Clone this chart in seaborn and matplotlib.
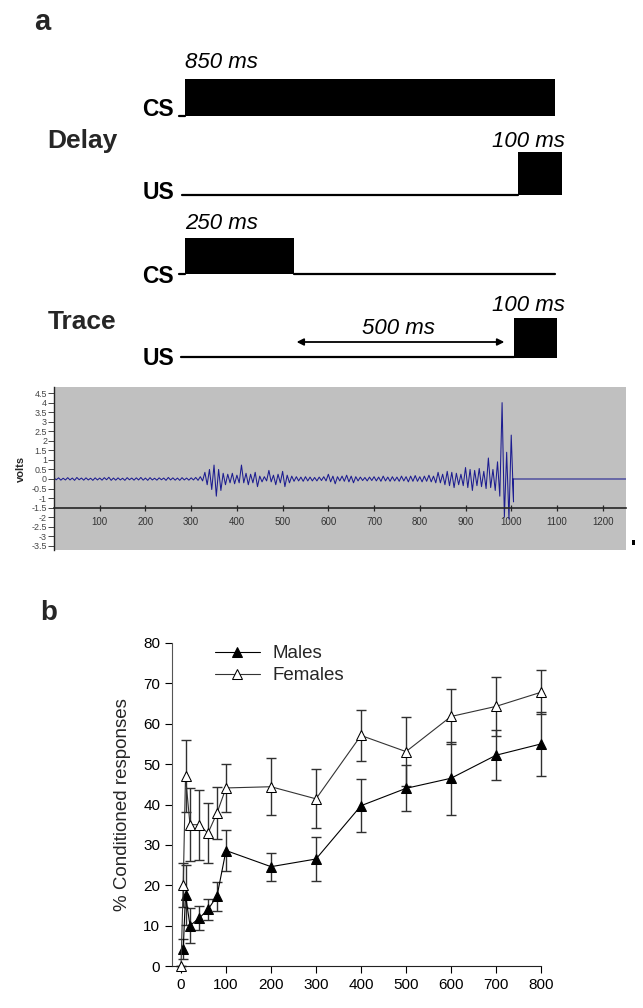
import numpy as np
import pandas as pd
import matplotlib
matplotlib.use("Agg")
import matplotlib.pyplot as plt
from matplotlib.patches import Rectangle, FancyArrowPatch
import seaborn as sns

# ---------------- panel a : stimulus timings (ms) ----------------
delay_cs_dur = 850
delay_us_onset = 765
us_dur = 100
trace_cs_dur = 250
trace_us_onset = 755
trace_gap = [250, 740]
delay_texts = ["850 ms", "100 ms"]
trace_texts = ["250 ms", "100 ms", "500 ms"]
row_names = ["Delay", "Trace"]

# ---------------- EMG trace (volts, 10 ms bins: upper / lower excursions) ----------------
emg_t = list(range(0, 1010, 10))
emg_hi = [0.05, 0.06, 0.04, 0.07, 0.05, 0.08, 0.05, 0.06, 0.04, 0.06,
          0.05, 0.07, 0.09, 0.05, 0.06, 0.04, 0.07, 0.05, 0.06, 0.08,
          0.05, 0.07, 0.04, 0.06, 0.05, 0.08, 0.06, 0.05, 0.07, 0.05,
          0.06, 0.08, 0.12, 0.35, 0.50, 0.73, 0.50, 0.30, 0.25, 0.30,
          0.20, 0.73, 0.30, 0.25, 0.35, 0.15, 0.12, 0.45, 0.20, 0.25,
          0.40, 0.20, 0.15, 0.12, 0.10, 0.12, 0.10, 0.08, 0.10, 0.12,
          0.25, 0.15, 0.12, 0.15, 0.20, 0.15, 0.12, 0.10, 0.08, 0.10,
          0.12, 0.10, 0.15, 0.10, 0.12, 0.10, 0.15, 0.12, 0.15, 0.18,
          0.12, 0.15, 0.20, 0.15, 0.35, 0.25, 0.40, 0.35, 0.30, 0.25,
          0.60, 0.50, 0.45, 0.55, 0.40, 1.10, 0.50, 0.90, 4.00, 1.40,
          2.30]
emg_lo = [-0.04, -0.06, -0.05, -0.05, -0.07, -0.04, -0.06, -0.05, -0.07, -0.05,
          -0.06, -0.04, -0.07, -0.06, -0.05, -0.07, -0.04, -0.06, -0.05, -0.06,
          -0.07, -0.05, -0.06, -0.04, -0.07, -0.05, -0.06, -0.07, -0.05, -0.06,
          -0.05, -0.07, -0.10, -0.30, -0.55, -0.90, -0.60, -0.30, -0.20, -0.25,
          -0.20, -0.20, -0.30, -0.20, -0.40, -0.15, -0.10, -0.15, -0.30, -0.20,
          -0.40, -0.20, -0.12, -0.10, -0.12, -0.10, -0.10, -0.10, -0.08, -0.10,
          -0.15, -0.25, -0.10, -0.12, -0.15, -0.20, -0.10, -0.08, -0.10, -0.08,
          -0.10, -0.12, -0.10, -0.12, -0.10, -0.12, -0.10, -0.15, -0.12, -0.12,
          -0.15, -0.12, -0.15, -0.20, -0.20, -0.30, -0.35, -0.45, -0.30, -0.35,
          -0.45, -0.60, -0.35, -0.40, -0.50, -0.45, -0.60, -0.90, -2.00, -2.10,
          -1.20]
emg_tail_t = [1004, 1251]
emg_tail_v = [0.0, 0.0]
emg_xticks = [100, 200, 300, 400, 500, 600, 700, 800, 900, 1000, 1100, 1200]
emg_yticks = [4.5, 4, 3.5, 3, 2.5, 2, 1.5, 1, 0.5, 0, -0.5, -1, -1.5, -2, -2.5, -3, -3.5]
emg_ylabels = ["4.5", "4", "3.5", "3", "2.5", "2", "1.5", "1", "0.5", "0",
               "-0.5", "-1", "-1.5", "-2", "-2.5", "-3", "-3.5"]

# ---------------- panel b : % conditioned responses ----------------
delays = [0, 5, 10, 20, 40, 60, 80, 100, 200, 300, 400, 500, 600, 700, 800]
males = [np.nan, 4.2, 17.6, 10.0, 11.8, 14.0, 17.3, 28.6, 24.6, 26.5, 39.7, 44.0, 46.5, 52.2, 55.0]
males_err = [np.nan, 2.5, 7.5, 4.3, 3.0, 2.6, 3.6, 5.0, 3.5, 5.5, 6.5, 5.7, 9.0, 6.2, 8.0]
females = [0.0, 20.1, 47.0, 35.0, 35.0, 32.9, 37.9, 44.1, 44.4, 41.4, 57.1, 53.1, 61.8, 64.3, 67.8]
females_err = [0.0, 5.5, 8.9, 9.0, 8.7, 7.5, 6.5, 6.0, 7.0, 7.3, 6.3, 8.5, 6.7, 7.4, 5.5]
b_xticks = [0, 100, 200, 300, 400, 500, 600, 700, 800]
b_yticks = [0, 10, 20, 30, 40, 50, 60, 70, 80]

sns.set_style("ticks")
plt.rcParams["font.family"] = ["Liberation Sans", "DejaVu Sans"]

W, H = 643, 1008
fig = plt.figure(figsize=(W / 100, H / 100), dpi=100)
fig.patch.set_facecolor("white")

# ======== schematic axes (x in ms, y in pixel rows) ========
k = 370 / 850.0            # px per ms
ax0 = fig.add_axes([0, 1 - 385 / H, 1, 385 / H])
ax0.set_xlim(-185 / k, (W - 185) / k)
ax0.set_ylim(385, 0)
ax0.axis("off")

def px(xp):
    return (xp - 185) / k

# Delay CS
ax0.add_patch(Rectangle((0, 79), delay_cs_dur, 37, color="black", lw=0))
ax0.plot([px(179), 0], [116, 116], color="black", lw=1.6)
# Delay US
ax0.plot([px(182), delay_us_onset], [195, 195], color="black", lw=1.6)
ax0.add_patch(Rectangle((delay_us_onset, 152), us_dur, 43, color="black", lw=0))
# Trace CS
ax0.add_patch(Rectangle((0, 238), trace_cs_dur, 36, color="black", lw=0))
ax0.plot([px(179), 0], [274, 274], color="black", lw=1.6)
ax0.plot([trace_cs_dur, delay_cs_dur], [274, 274], color="black", lw=1.6)
# Trace US
ax0.plot([px(181), trace_us_onset], [357, 357], color="black", lw=1.6)
ax0.add_patch(Rectangle((trace_us_onset, 318), us_dur, 40, color="black", lw=0))
ax0.add_patch(FancyArrowPatch((trace_gap[0], 342), (trace_gap[1], 342),
                              arrowstyle="<|-|>", mutation_scale=10, color="black", lw=1.3))

it = dict(style="italic", fontsize=16, color="black")
ax0.text(0, 68, delay_texts[0], ha="left", va="baseline", **it)
ax0.text(px(565), 147, delay_texts[1], ha="right", va="baseline", **it)
ax0.text(0, 229, trace_texts[0], ha="left", va="baseline", **it)
ax0.text(px(565), 311, trace_texts[1], ha="right", va="baseline", **it)
ax0.text(px(398), 334, trace_texts[2], ha="center", va="baseline", **it)

bd = dict(fontweight="bold", fontsize=16.5, color="black")
ax0.text(px(174), 116, "CS", ha="right", va="baseline", **bd)
ax0.text(px(174), 199, "US", ha="right", va="baseline", **bd)
ax0.text(px(174), 283, "CS", ha="right", va="baseline", **bd)
ax0.text(px(174), 365, "US", ha="right", va="baseline", **bd)
ax0.text(px(47), 148, row_names[0], ha="left", va="baseline", fontweight="bold", fontsize=19)
ax0.text(px(48), 329, row_names[1], ha="left", va="baseline", fontweight="bold", fontsize=19)
ax0.text(px(34), 30, "a", ha="left", va="baseline", fontweight="bold", fontsize=21)

# ======== EMG axes ========
ax1 = fig.add_axes([54 / W, 1 - 550 / H, 572 / W, 163 / H])
ax1.set_facecolor("#c0c0c0")
tt, vv = [], []
for t, hi, lo in zip(emg_t, emg_hi, emg_lo):
    tt += [t, t + 5]
    vv += [hi, lo]
tt += emg_tail_t
vv += emg_tail_v
sns.lineplot(x=tt, y=vv, ax=ax1, color="#1c1c90", lw=0.75, estimator=None, sort=False)
ax1.set_xlim(0, 1251)
ax1.set_ylim(-3.72, 4.82)
for s in ["top", "right"]:
    ax1.spines[s].set_visible(False)
ax1.spines["bottom"].set_position(("data", -1.5))
ax1.spines["bottom"].set_linewidth(1.2)
ax1.spines["left"].set_linewidth(1.0)
ax1.set_xticks(emg_xticks)
ax1.set_xticklabels([str(v) for v in emg_xticks], fontsize=7, color="#333333")
ax1.tick_params(axis="x", direction="inout", length=5, width=0.9, pad=4)
ax1.set_yticks(emg_yticks)
ax1.set_yticklabels(emg_ylabels, fontsize=6.4, color="#444444")
ax1.tick_params(axis="y", direction="out", length=4, width=0.6, pad=1)
ax1.set_ylabel("volts", fontsize=8, fontweight="bold", labelpad=4)
fig.patches.append(Rectangle((632 / W, 1 - 545 / H), 3 / W, 5 / H, transform=fig.transFigure,
                             color="black", lw=0))

# ======== panel b ========
ax2 = fig.add_axes([172 / W, 1 - 966 / H, 369 / W, 323 / H])
ax2.errorbar(delays, males, yerr=males_err, fmt="none", ecolor="#303030",
             elinewidth=1.0, capsize=3.5, capthick=1.0, zorder=2, clip_on=False)
ax2.errorbar(delays, females, yerr=females_err, fmt="none", ecolor="#303030",
             elinewidth=1.0, capsize=3.5, capthick=1.0, zorder=2, clip_on=False)
sns.lineplot(x=delays, y=males, ax=ax2, color="black", lw=0.8, marker="^",
             markersize=7, markerfacecolor="black", markeredgecolor="black",
             label="Males", zorder=3, clip_on=False)
sns.lineplot(x=delays, y=females, ax=ax2, color="#333333", lw=0.8, marker="^",
             markersize=7, markerfacecolor="white", markeredgecolor="black",
             label="Females", zorder=4, clip_on=False)
ax2.set_xlim(-20, 800)
ax2.set_ylim(0, 80)
ax2.set_xticks(b_xticks)
ax2.set_yticks(b_yticks)
ax2.tick_params(labelsize=11, length=5, width=0.8, colors="black")
for s in ["top", "right"]:
    ax2.spines[s].set_visible(False)
ax2.spines["left"].set_color("#555555")
ax2.spines["bottom"].set_color("#222222")
ax2.set_ylabel("% Conditioned responses", fontsize=13.5, labelpad=9)
ax2.set_xlabel("")
leg = ax2.legend(loc="upper left", bbox_to_anchor=(0.07, 1.045), frameon=False,
                 fontsize=13.5, handlelength=2.4, handletextpad=0.7, labelspacing=0.25)
fig.text(40 / W, 1 - 620 / H, "b", fontweight="bold", fontsize=20, ha="left", va="baseline")

fig.savefig("out.png", dpi=100, facecolor="white")
